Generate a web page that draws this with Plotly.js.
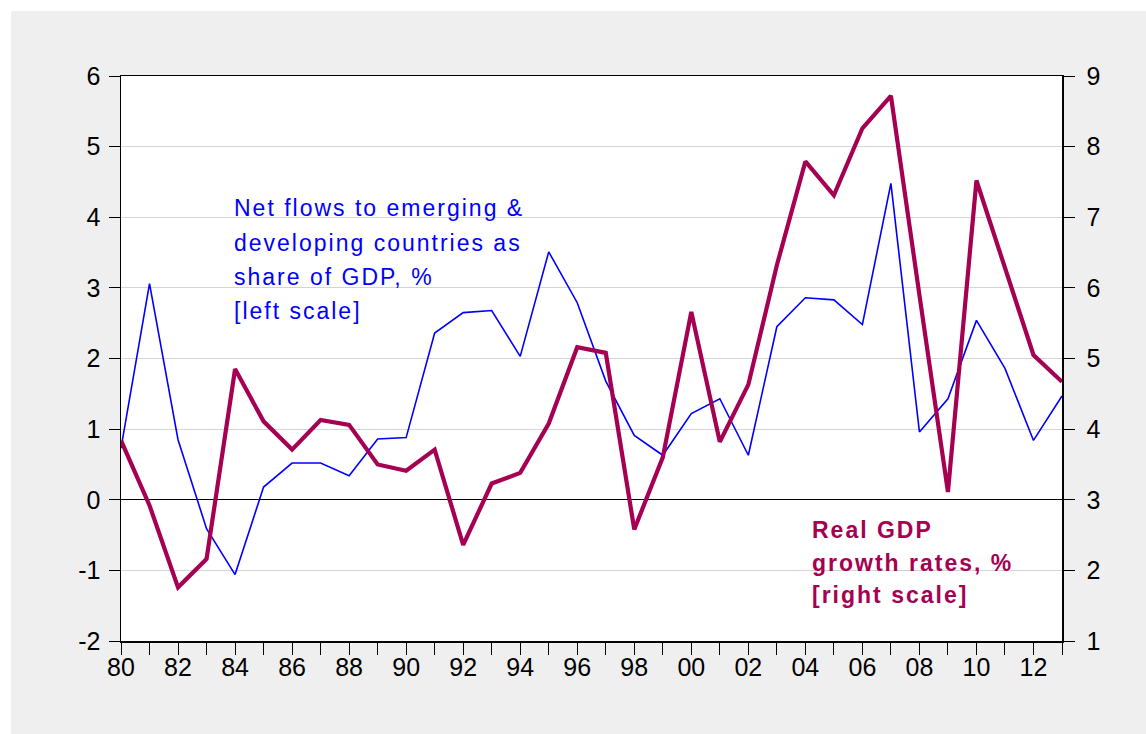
<!DOCTYPE html>
<html>
<head>
<meta charset="utf-8">
<script src="https://cdn.plot.ly/plotly-3.0.1.min.js"></script>
<style>
  html, body { margin: 0; padding: 0; background: #ffffff; }
  #chart { position: absolute; left: 11px; top: 11px; width: 1135px; height: 723px; }
  .annotation-text { letter-spacing: 2px; }
</style>
</head>
<body>
<div id="chart"></div>
<script>
// ---- data ----
const years = [1980,1981,1982,1983,1984,1985,1986,1987,1988,1989,1990,1991,1992,1993,1994,1995,1996,1997,1998,1999,2000,2001,2002,2003,2004,2005,2006,2007,2008,2009,2010,2011,2012,2013];

// Net flows to emerging & developing countries, % of GDP (left scale)
const netFlows = [0.73,3.06,0.85,-0.41,-1.06,0.18,0.52,0.52,0.34,0.86,0.88,2.36,2.65,2.68,2.03,3.51,2.79,1.68,0.91,0.63,1.22,1.43,0.63,2.45,2.86,2.83,2.48,4.48,0.96,1.43,2.54,1.86,0.84,1.47];

// Real GDP growth rates, % (right scale)
const gdpGrowth = [3.84,2.92,1.76,2.16,4.85,4.11,3.71,4.13,4.06,3.50,3.41,3.71,2.36,3.23,3.38,4.08,5.16,5.08,2.58,3.60,5.66,3.82,4.63,6.32,7.79,7.31,8.26,8.72,5.90,3.11,7.52,6.29,5.05,4.67];

const xTickVals = [1980,1981,1982,1983,1984,1985,1986,1987,1988,1989,1990,1991,1992,1993,1994,1995,1996,1997,1998,1999,2000,2001,2002,2003,2004,2005,2006,2007,2008,2009,2010,2011,2012,2013];
const xTickText = ["80","","82","","84","","86","","88","","90","","92","","94","","96","","98","","00","","02","","04","","06","","08","","10","","12",""];

const leftTicks = [-2,-1,0,1,2,3,4,5,6];
const leftTickText = ["-2","-1","0","1","2","3","4","5","6"];
const rightTicks = [1,2,3,4,5,6,7,8,9];
const rightTickText = ["1","2","3","4","5","6","7","8","9"];

const blueLabel = ["Net flows to emerging &", "developing countries as", "share of GDP, %", "[left scale]"];
const redLabel = ["Real GDP", "growth rates, %", "[right scale]"];

// ---- style ----
const BLUE = "#0000ff";
const RED = "rgb(165,0,82)";
const FONT = "Liberation Sans, Arial, sans-serif";

const traces = [
  { x: years, y: netFlows, type: "scatter", mode: "lines", name: "Net flows",
    line: { color: BLUE, width: 1.6 }, yaxis: "y", hoverinfo: "skip" },
  { x: years, y: gdpGrowth, type: "scatter", mode: "lines", name: "Real GDP growth",
    line: { color: RED, width: 4.2 }, yaxis: "y2", hoverinfo: "skip" }
];

const blueY = [0.7669, 0.7053, 0.6448, 0.5841];
const redY = [0.1965, 0.1381, 0.0814];
const annotations = [];
blueLabel.forEach((t, i) => annotations.push({
  text: t, xref: "paper", yref: "paper", x: 0.118, y: blueY[i],
  xanchor: "left", yanchor: "middle", showarrow: false,
  font: { family: FONT, size: 23, color: BLUE }
}));
redLabel.forEach((t, i) => annotations.push({
  text: "<b>" + t + "</b>", xref: "paper", yref: "paper", x: 0.732, y: redY[i],
  xanchor: "left", yanchor: "middle", showarrow: false,
  font: { family: FONT, size: 23, color: RED }
}));

const layout = {
  width: 1135, height: 723,
  paper_bgcolor: "#efefef",
  plot_bgcolor: "#ffffff",
  margin: { l: 110, r: 84, t: 65, b: 93 },
  showlegend: false,
  font: { family: FONT, size: 25, color: "#000000" },
  xaxis: {
    range: [1980, 2013], tickmode: "array", tickvals: xTickVals, ticktext: xTickText,
    ticks: "outside", ticklen: 12, tickwidth: 1, tickcolor: "#000000",
    showgrid: false, zeroline: false,
    showline: true, linecolor: "#000000", linewidth: 1.5, mirror: true,
    tickfont: { family: FONT, size: 25, color: "#000000" },
    ticklabelstandoff: -9
  },
  yaxis: {
    range: [-2, 6], tickmode: "array", tickvals: leftTicks, ticktext: leftTickText,
    ticks: "outside", ticklen: 11, tickwidth: 1, tickcolor: "#000000",
    showgrid: true, gridcolor: "#d4d4d4", gridwidth: 1,
    zeroline: true, zerolinecolor: "#000000", zerolinewidth: 1,
    showline: true, linecolor: "#000000", linewidth: 1.5,
    tickfont: { family: FONT, size: 25, color: "#000000" },
    ticklabelstandoff: 3
  },
  yaxis2: {
    range: [1, 9], tickmode: "array", tickvals: rightTicks, ticktext: rightTickText,
    overlaying: "y", side: "right",
    ticks: "outside", ticklen: 11, tickwidth: 1, tickcolor: "#000000",
    showgrid: false, zeroline: false,
    showline: true, linecolor: "#000000", linewidth: 1.5,
    tickfont: { family: FONT, size: 25, color: "#000000" },
    ticklabelstandoff: 7
  },
  annotations: annotations
};

Plotly.newPlot("chart", traces, layout, { displayModeBar: false, staticPlot: true });
</script>
</body>
</html>
